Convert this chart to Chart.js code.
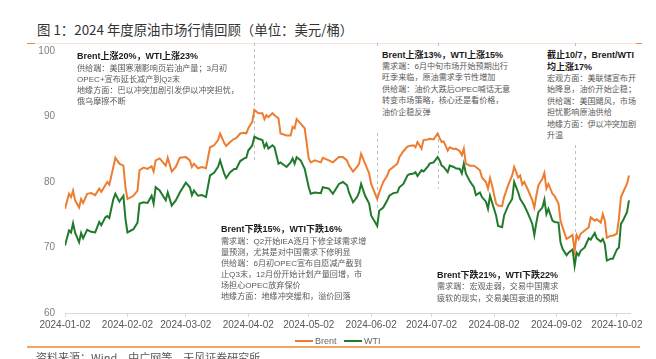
<!DOCTYPE html>
<html><head><meta charset="utf-8">
<script src="https://cdn.jsdelivr.net/npm/chart.js@4.4.1/dist/chart.umd.min.js"></script>
<style>
html,body{margin:0;padding:0;background:#fff;width:656px;height:359px;overflow:hidden;position:relative;font-family:"Liberation Sans","Noto Sans CJK SC",sans-serif;}
#c{position:absolute;left:0;top:0;}
.abs{position:absolute;white-space:nowrap;}
.note .h{font-weight:bold;color:#1a1a1a;font-size:9px;}
.note .b{color:#595959;font-size:8.1px;}
</style></head><body>
<div class="abs" style="left:37px;top:20px;font-size:13.4px;color:#333;line-height:18px;font-family:'Noto Sans CJK SC',sans-serif;">图 1：2024 年度原油市场行情回顾（单位：美元/桶）</div>
<div class="abs" style="left:27px;top:43px;width:613px;height:1px;background:#fbe4d5;"></div>
<div class="abs" style="left:27px;top:43px;width:8px;height:1px;background:#f08a3c;"></div>
<div class="abs" style="left:636px;top:43px;width:6px;height:1px;background:#f08a3c;"></div>
<canvas id="c" width="656" height="359"></canvas>

<div class="abs note" style="left:77px;top:50px;">
<div class="h" style="line-height:13px;">Brent上涨20%，WTI上涨23%</div>
<div class="b" style="line-height:11px;">供给端：美国寒潮影响页岩油产量；3月初<br>OPEC+宣布延长减产到Q2末<br>地缘方面：巴以冲突加剧引发伊以冲突担忧，<br>俄乌摩擦不断</div>
</div>
<div class="abs note" style="left:376px;top:46px;padding:3px 6px 0 6px;background:#fff;height:83px;">
<div class="h" style="line-height:12px;">Brent上涨13%，WTI上涨15%</div>
<div class="b" style="line-height:11.4px;">需求端：6月中旬市场开始预期出行<br>旺季来临，原油需求季节性增加<br>供给端：油价大跌后OPEC喊话无意<br>转变市场策略，核心还是看价格，<br>油价企稳反弹</div>
</div>
<div class="abs note" style="left:541px;top:46px;padding:3px 6px 0 6px;background:#fff;height:96px;width:96px;">
<div class="h" style="line-height:12px;">截止10/7，Brent/WTI<br>均上涨17%</div>
<div class="b" style="line-height:11.4px;">宏观方面：美联储宣布开<br>始降息，油价开始企稳；<br>供给端：美国飓风，市场<br>担忧影响原油供给<br>地缘方面：伊以冲突加剧<br>升温</div>
</div>
<div class="abs note" style="left:221px;top:222.5px;">
<div class="h" style="line-height:13px;">Brent下跌15%，WTI下跌16%</div>
<div class="b" style="line-height:11px;">需求端：Q2开始IEA逐月下修全球需求增<br>量预测，尤其是对中国需求下修明显<br>供给端：6月初OPEC宣布自愿减产截到<br>止Q3末，12月份开始计划产量回增，市<br>场担心OPEC放弃保价<br>地缘方面：地缘冲突缓和，溢价回落</div>
</div>
<div class="abs note" style="left:437px;top:269px;">
<div class="h" style="line-height:12px;">Brent下跌21%，WTI下跌22%</div>
<div class="b" style="line-height:12px;">需求端：宏观走弱，交易中国需求<br>疲软的现实，交易美国衰退的预期</div>
</div>

<div class="abs" style="left:295px;top:340px;width:18px;height:2px;background:#ED7D31;"></div>
<div class="abs" style="left:315px;top:335px;font-size:9px;color:#666;line-height:12px;">Brent</div>
<div class="abs" style="left:344px;top:340px;width:18px;height:2px;background:#217A2C;"></div>
<div class="abs" style="left:364px;top:335px;font-size:9px;color:#666;line-height:12px;">WTI</div>
<div class="abs" style="left:27px;top:346px;width:613px;height:2px;background:#F4A460;"></div>
<div class="abs" style="left:36px;top:350px;font-size:11px;color:#595959;line-height:14px;font-family:'Noto Sans CJK SC',sans-serif;">资料来源：Wind，中广网等，天风证券研究所</div>

<script>
const dates = [
'2024-01-02','2024-01-04','2024-01-05','2024-01-06','2024-01-07','2024-01-09','2024-01-10','2024-01-11','2024-01-13','2024-01-15','2024-01-17','2024-01-19','2024-01-20','2024-01-22','2024-01-23','2024-01-24','2024-01-26','2024-01-27','2024-01-29','2024-01-31',
'2024-02-01','2024-02-02','2024-02-05','2024-02-07','2024-02-08','2024-02-10','2024-02-12','2024-02-14','2024-02-15','2024-02-16','2024-02-18','2024-02-21','2024-02-22','2024-02-24','2024-02-26','2024-02-28',
'2024-03-02','2024-03-04','2024-03-05','2024-03-06','2024-03-08','2024-03-10','2024-03-12','2024-03-14','2024-03-16','2024-03-18','2024-03-19','2024-03-21','2024-03-22','2024-03-24','2024-03-26','2024-03-27','2024-03-29','2024-03-31',
'2024-04-01','2024-04-02','2024-04-04','2024-04-05','2024-04-07','2024-04-09','2024-04-10','2024-04-11','2024-04-12','2024-04-14','2024-04-15','2024-04-17','2024-04-18','2024-04-21','2024-04-23','2024-04-24','2024-04-25','2024-04-26','2024-04-28','2024-04-30',
'2024-05-02','2024-05-03','2024-05-05','2024-05-08','2024-05-09','2024-05-12','2024-05-14','2024-05-17','2024-05-19','2024-05-21','2024-05-22','2024-05-24','2024-05-26','2024-05-27','2024-05-28','2024-05-30',
'2024-06-01','2024-06-02','2024-06-05','2024-06-06','2024-06-08','2024-06-10','2024-06-11','2024-06-13','2024-06-15','2024-06-16','2024-06-18','2024-06-20','2024-06-21','2024-06-23','2024-06-24','2024-06-25','2024-06-27','2024-06-28','2024-06-30',
'2024-07-01','2024-07-03','2024-07-05','2024-07-06','2024-07-07','2024-07-08','2024-07-10','2024-07-11','2024-07-13','2024-07-14','2024-07-16','2024-07-17','2024-07-18','2024-07-19','2024-07-21','2024-07-23','2024-07-24','2024-07-26','2024-07-27','2024-07-29','2024-07-30','2024-07-31',
'2024-08-01','2024-08-03','2024-08-04','2024-08-06','2024-08-07','2024-08-09','2024-08-11','2024-08-12','2024-08-14','2024-08-15','2024-08-16','2024-08-17','2024-08-19','2024-08-21','2024-08-22','2024-08-23','2024-08-24','2024-08-26','2024-08-27','2024-08-28','2024-08-29','2024-08-31',
'2024-09-01','2024-09-03','2024-09-04','2024-09-05','2024-09-07','2024-09-08','2024-09-10','2024-09-11','2024-09-12','2024-09-13','2024-09-14','2024-09-16','2024-09-18','2024-09-19','2024-09-21','2024-09-22','2024-09-24','2024-09-25','2024-09-26','2024-09-27','2024-09-29','2024-09-30',
'2024-10-02','2024-10-03','2024-10-04','2024-10-05','2024-10-07','2024-10-08'];

const brent = [
75.9,78.2,77.7,78.7,77.2,76.1,77.4,76.8,78.2,78.3,78.0,79.0,78.5,79.5,80.0,79.6,82.3,83.7,82.8,82.5,
79.2,77.4,77.9,78.7,81.8,82.2,82.0,82.4,81.6,83.3,83.6,82.5,83.7,81.6,82.3,83.7,
83.8,83.3,82.3,82.8,82.1,82.3,82.1,85.3,85.6,86.4,87.4,86.0,85.5,86.1,86.6,86.7,87.4,87.5,
87.4,88.2,89.2,91.0,90.5,90.5,89.6,90.2,89.9,90.5,90.2,89.7,87.4,87.1,87.1,88.4,88.2,89.6,88.9,88.2,
83.6,83.0,83.3,83.0,83.7,83.3,83.0,83.8,83.8,83.3,82.5,81.6,82.3,82.8,84.3,82.8,
81.3,79.7,77.4,78.4,80.0,81.0,81.8,82.3,82.8,83.8,84.7,85.4,85.5,85.6,85.3,86.1,85.1,86.4,86.5,
86.6,86.5,87.4,86.7,86.1,86.2,84.8,85.3,85.0,85.1,84.7,84.1,85.1,82.8,82.5,82.5,82.3,81.8,80.7,80.0,79.0,80.6,
79.5,76.7,76.4,76.3,77.7,79.5,81.0,82.3,80.7,81.0,79.6,80.0,78.7,77.2,76.1,77.9,79.5,80.5,81.4,79.0,79.7,78.2,
77.9,76.7,74.1,73.1,71.3,71.5,71.9,69.5,71.9,71.3,72.1,72.6,73.1,74.6,74.1,74.3,73.8,75.1,74.1,71.5,71.8,71.8,
72.1,74.4,77.7,78.4,79.7,81.0];

const wti = [
70.3,72.6,72.3,73.7,72.3,70.8,72.2,71.4,72.7,72.4,72.3,73.9,73.4,74.6,74.8,74.5,77.4,78.2,77.0,77.9,
74.4,72.3,72.8,73.8,76.7,76.9,76.8,77.9,76.7,79.2,78.7,77.2,78.4,76.4,77.2,78.4,
79.9,79.2,78.0,78.7,77.9,78.0,77.7,81.0,81.4,82.3,83.3,81.3,80.6,81.5,82.0,82.0,83.2,83.6,
83.7,84.8,85.6,86.9,86.6,86.4,85.3,85.9,85.1,85.6,85.3,82.8,83.0,82.3,83.0,83.6,82.8,83.8,83.3,82.0,
79.2,78.2,78.4,78.3,79.2,79.0,78.2,79.7,80.0,79.5,78.4,76.9,77.7,78.4,79.7,77.9,
76.7,74.9,73.3,75.6,76.1,77.2,77.9,78.3,78.4,79.2,79.7,81.0,81.2,81.3,81.5,80.9,81.8,81.6,82.3,
82.8,83.0,83.8,83.3,82.5,82.3,81.5,82.5,82.3,82.1,82.0,81.3,82.8,81.3,80.1,79.2,78.0,78.4,77.7,77.0,75.9,77.9,
76.9,74.9,73.3,73.1,74.9,76.4,77.4,80.0,78.4,77.4,76.9,76.4,75.1,73.6,71.9,73.8,75.4,76.1,77.3,75.1,75.9,74.1,
73.9,73.8,70.8,69.8,68.8,69.2,69.7,67.2,69.2,68.8,69.5,70.0,71.4,71.2,72.2,71.4,70.9,71.3,70.5,68.0,68.3,68.3,
69.7,70.0,73.6,74.1,75.4,77.2];

const tickLabels = ['2024-01-02','2024-02-02','2024-03-02','2024-04-02','2024-05-02','2024-06-02','2024-07-02','2024-08-02','2024-09-02','2024-10-02'];
const yTicks = [60,70,80,90,100];
// vertical dashed guide lines: date and the price level where each ends
const guideDates = ['2024-04-05','2024-06-05','2024-07-05','2024-09-11'];
const guideEnds = [83.0,75.6,79.0,67.2];

const day0 = Date.parse('2024-01-02');
const toDay = s => (Date.parse(s) - day0) / 86400000;

const guidePlugin = {
  id:'guides',
  beforeDatasetsDraw(chart){
    const {ctx, scales:{x,y}, chartArea} = chart;
    ctx.save();
    ctx.strokeStyle = '#bfbfbf';
    ctx.lineWidth = 1;
    ctx.setLineDash([3,3]);
    guideDates.forEach((d,i)=>{
      const px = Math.round(x.getPixelForValue(toDay(d))) + 0.5;
      ctx.beginPath();
      ctx.moveTo(px, chartArea.top - 8);
      ctx.lineTo(px, y.getPixelForValue(guideEnds[i]));
      ctx.stroke();
    });
    ctx.restore();
  }
};

new Chart(document.getElementById('c'), {
  type:'line',
  data:{
    datasets:[
      {label:'Brent', data: dates.map((d,i)=>({x:toDay(d), y:brent[i]})), borderColor:'#ED7D31', borderWidth:2, pointRadius:0, tension:0},
      {label:'WTI', data: dates.map((d,i)=>({x:toDay(d), y:wti[i]})), borderColor:'#217A2C', borderWidth:2, pointRadius:0, tension:0}
    ]
  },
  options:{
    responsive:false, animation:false,
    layout:{padding:{left:0,right:26,top:51,bottom:20}},
    plugins:{legend:{display:false}, tooltip:{enabled:false}},
    scales:{
      x:{
        type:'linear', min:0, max:toDay('2024-10-08')+0.5,
        afterBuildTicks(s){ s.ticks = tickLabels.map(t=>({value:toDay(t)})); },
        afterFit(s){ s.height = 26; },
        ticks:{autoSkip:false, maxRotation:0, padding:2, color:'#595959', font:{family:'Liberation Sans', size:10},
          callback:(v)=>{ const i = tickLabels.findIndex(t=>toDay(t)===v); return i>=0?tickLabels[i]:''; }},
        grid:{drawOnChartArea:false, drawTicks:true, tickLength:4, color:'#d9d9d9'},
        border:{display:true, color:'#d9d9d9'}
      },
      y:{
        min:60, max:100,
        afterBuildTicks(s){ s.ticks = yTicks.map(v=>({value:v})); },
        afterFit(s){ s.width = 65; },
        ticks:{padding:10, color:'#7f7f7f', font:{family:'Liberation Sans', size:10}},
        grid:{display:false, drawTicks:false},
        border:{display:false}
      }
    }
  },
  plugins:[guidePlugin]
});
</script>
</body></html>
